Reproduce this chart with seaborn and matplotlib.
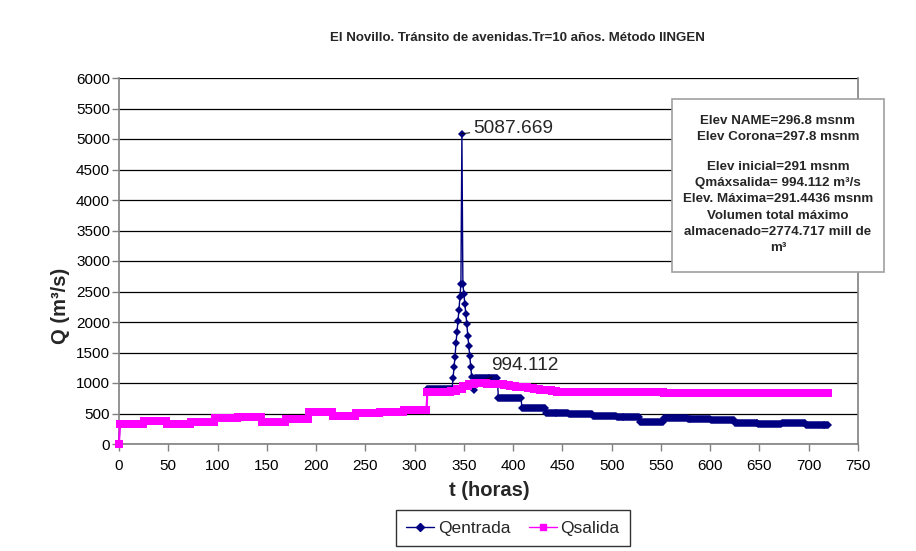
import numpy as np
import matplotlib
matplotlib.use("Agg")
import matplotlib.pyplot as plt
from matplotlib.lines import Line2D
from matplotlib.patches import Rectangle
import seaborn as sns

# ---- data (hourly routing, t = 0..720 h) ----
q_inicial = 0.0
# daily flows before the flood (inflow = outflow), days 1..13
q_diaria_previa = [335, 375, 330, 360, 420, 435, 360, 415, 525, 460, 505, 520, 565]
# inflow, day 14
q_entrada_dia14 = 900
# inflow hydrograph, hourly, day 15 (t = 337..360)
q_entrada_avenida = [900, 900, 1075, 1256, 1431, 1650, 1830, 2021, 2197, 2404, 2623,
                     5087.669, 2623, 2459, 2295, 2131, 1967, 1776, 1612, 1448, 1267,
                     1092, 960, 885]
# inflow, days 16..30
q_entrada_posterior = [1090, 750, 590, 505, 485, 465, 440, 355, 420, 415, 390, 350,
                       335, 345, 315]
# outflow, 6-hour blocks (t = 313..480)
q_salida_6h = [848, 850, 852, 855, 862, 905, 955, 985, 994.112, 993, 990, 985, 977,
               965, 953, 940, 928, 915, 903, 890, 878, 868, 860, 854, 850, 848, 847, 846]
# outflow, days 21..30
q_salida_posterior = [846, 845, 845, 844, 844, 843, 843, 842, 842, 842]

x_ticks = list(range(0, 751, 50))
y_ticks = list(range(0, 6001, 500))

titulo = "El Novillo. Tránsito de avenidas.Tr=10 años. Método IINGEN"
lineas_resumen = ["Elev NAME=296.8 msnm", "Elev Corona=297.8 msnm", "",
                  "Elev inicial=291 msnm", "Qmáxsalida= 994.112 m³/s",
                  "Elev. Máxima=291.4436 msnm", "Volumen total máximo",
                  "almacenado=2774.717 mill de", "m³"]

# ---- hourly series ----
t = np.arange(0, 721)
q_entrada = np.concatenate([[q_inicial], np.repeat(q_diaria_previa, 24),
                            np.repeat([q_entrada_dia14], 24), q_entrada_avenida,
                            np.repeat(q_entrada_posterior, 24)])
q_salida = np.concatenate([[q_inicial], np.repeat(q_diaria_previa, 24),
                           np.repeat(q_salida_6h, 6), np.repeat(q_salida_posterior, 24)])

sns.set_theme(style="white")
plt.rcParams["font.family"] = ["Liberation Sans", "DejaVu Sans"]

W, H = 916, 551
fig = plt.figure(figsize=(W / 100, H / 100), dpi=100)
ax = fig.add_axes([119 / W, 1 - 444 / H, (858 - 119) / W, (444 - 78) / H])

navy = "#000080"
magenta = "#FF00FF"

sns.lineplot(x=t, y=q_entrada, ax=ax, color=navy, marker="D", markersize=4.5,
             markeredgewidth=0, linewidth=1.0, zorder=3, legend=False)
sns.lineplot(x=t, y=q_salida, ax=ax, color=magenta, marker="s", markersize=5.8,
             markeredgewidth=0, linewidth=1.5, zorder=4, legend=False)
for linea_serie in ax.lines:
    linea_serie.set_clip_on(False)

ax.set_xlim(0, 750)
ax.set_ylim(0, 6000)
ax.set_xticks(x_ticks)
ax.set_yticks(y_ticks)
ax.tick_params(axis="both", direction="out", length=5, width=1, color="#808080",
               labelsize=11, labelcolor="black")
ax.tick_params(axis="x", bottom=True, pad=6)
ax.tick_params(axis="y", left=True, pad=1.5)
ax.grid(axis="y", color="black", linewidth=0.9)
ax.grid(axis="x", visible=False)
ax.set_axisbelow(True)
for s in ["left", "bottom", "right"]:
    ax.spines[s].set_color("#808080")
    ax.spines[s].set_linewidth(1.2)
ax.spines["top"].set_visible(False)

ax.set_xlabel("t (horas)", fontsize=14.5, fontweight="bold")
ax.xaxis.set_label_coords((489 - 119) / (858 - 119), -(491 - 444) / (444 - 78))
ax.xaxis.label.set_verticalalignment("center")
ax.set_ylabel("Q (m³/s)", fontsize=14.5, fontweight="bold")
ax.yaxis.set_label_coords((61 - 119) / (858 - 119), (444 - 306) / (444 - 78))
ax.yaxis.label.set_verticalalignment("center")

fig.text(517 / W, 1 - 38 / H, titulo, ha="center", va="center",
         fontsize=9.5, fontweight="bold")

# peak labels
i_ent = int(np.argmax(q_entrada))
ax.annotate(f"{q_entrada[i_ent]:.3f}", xy=(t[i_ent], q_entrada[i_ent]),
            xytext=(8, 4), textcoords="offset points", ha="left", va="center",
            fontsize=13.8,
            arrowprops=dict(arrowstyle="-", color="black", lw=0.7, shrinkA=0, shrinkB=0))
i_sal = int(np.argmax(q_salida))
ax.annotate(f"{q_salida[i_sal]:.3f}", xy=(t[i_sal], q_salida[i_sal]),
            xytext=(12, 13), textcoords="offset points", ha="left", va="center",
            fontsize=13.8,
            arrowprops=dict(arrowstyle="-", color="black", lw=0.7, shrinkA=0, shrinkB=0))

# summary box
fig.patches.append(Rectangle((672 / W, 1 - 272 / H), (884 - 672) / W, (272 - 99) / H,
                             transform=fig.transFigure, facecolor="white",
                             edgecolor="#a0a0a0", linewidth=1.2, zorder=10))
y_linea = 121
for linea in lineas_resumen:
    if linea:
        fig.text(778 / W, 1 - y_linea / H, linea, ha="center", va="center",
                 fontsize=9.6, fontweight="bold", zorder=11)
        y_linea += 16.3
    else:
        y_linea += 13

# legend
handles = [Line2D([], [], color=navy, marker="D", markersize=4.5, lw=1, label="Qentrada"),
           Line2D([], [], color=magenta, marker="s", markersize=5, lw=1, label="Qsalida")]
leg = fig.legend(handles=handles, loc="center", bbox_to_anchor=(513 / W, 1 - 528 / H),
                 ncol=2, frameon=True, fancybox=False, fontsize=12.5, handlelength=1.6,
                 columnspacing=1.1, handletextpad=0.2, borderpad=0.6, borderaxespad=0)
leg.get_frame().set_edgecolor("black")
leg.get_frame().set_linewidth(1.0)

fig.savefig("out.png", dpi=100)
